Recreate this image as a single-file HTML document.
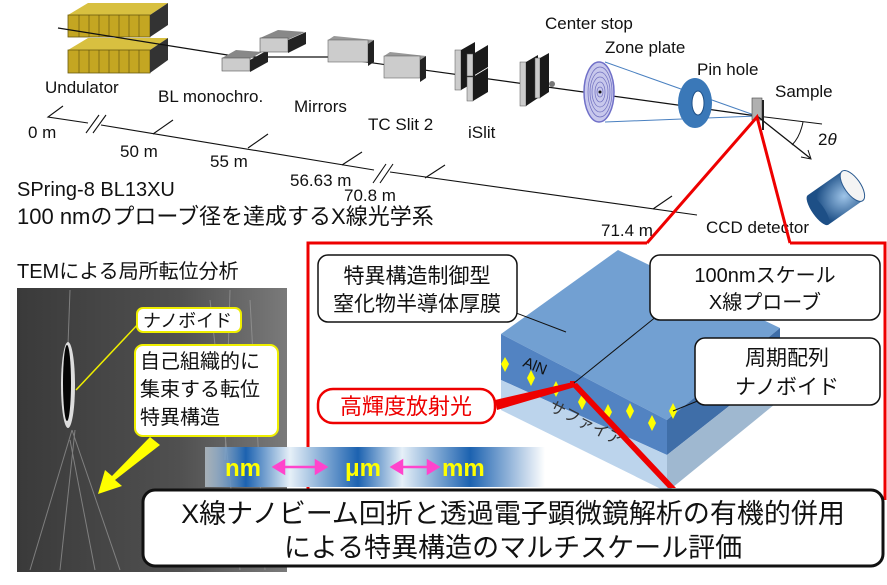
<!DOCTYPE html>
<html><head><meta charset="utf-8"><style>
html,body{margin:0;padding:0;background:#fff}
svg text{font-family:"Liberation Sans","Noto Sans CJK JP",sans-serif}
</style></head><body>
<svg width="887" height="580" viewBox="0 0 887 580" xmlns="http://www.w3.org/2000/svg">
<defs>
<linearGradient id="sb" x1="0" x2="1" y1="0" y2="0">
<stop offset="0" stop-color="#d8e8f4" stop-opacity="0.6"/>
<stop offset="0.12" stop-color="#1c62b0"/>
<stop offset="0.25" stop-color="#e6f0f8"/>
<stop offset="0.45" stop-color="#1c62b0"/>
<stop offset="0.58" stop-color="#e6f0f8"/>
<stop offset="0.78" stop-color="#1c62b0"/>
<stop offset="1" stop-color="#ffffff"/>
</linearGradient>
<linearGradient id="tem" x1="0" x2="1">
<stop offset="0" stop-color="#3a3a3a"/><stop offset="0.6" stop-color="#505050"/><stop offset="1" stop-color="#7a7a7a"/>
</linearGradient>
<radialGradient id="ccd" cx="0.7" cy="0.6" r="0.7"><stop offset="0" stop-color="#9ec4e8"/><stop offset="1" stop-color="#1d4f86"/></radialGradient>
</defs>

<!-- Undulator -->
<polygon points="68,15 88,3 168,3 150,15" fill="#d8c040"/>
<rect x="68" y="15" width="82" height="22" fill="#c4a622" stroke="#6a5a10" stroke-width="0.8"/>
<polygon points="150,15 168,3 168,25 150,37" fill="#333"/>
<polygon points="68,50 88,38 168,38 150,50" fill="#d8c040"/>
<rect x="68" y="50" width="82" height="23" fill="#c4a622" stroke="#6a5a10" stroke-width="0.8"/>
<polygon points="150,50 168,38 168,60 150,73" fill="#333"/>
<g stroke="#6a5a10" stroke-width="0.7">
<line x1="79" y1="15" x2="79" y2="37"/><line x1="89" y1="15" x2="89" y2="37"/><line x1="99" y1="15" x2="99" y2="37"/><line x1="109" y1="15" x2="109" y2="37"/><line x1="119" y1="15" x2="119" y2="37"/><line x1="129" y1="15" x2="129" y2="37"/><line x1="139" y1="15" x2="139" y2="37"/>
<line x1="79" y1="50" x2="79" y2="73"/><line x1="89" y1="50" x2="89" y2="73"/><line x1="99" y1="50" x2="99" y2="73"/><line x1="109" y1="50" x2="109" y2="73"/><line x1="119" y1="50" x2="119" y2="73"/><line x1="129" y1="50" x2="129" y2="73"/><line x1="139" y1="50" x2="139" y2="73"/>
</g>
<!-- beam -->
<polyline points="58,28 240,57" stroke="#111" stroke-width="1.2" fill="none"/>
<path d="M235,52 L242,57 L235,60" stroke="#111" fill="none"/>
<polyline points="242,57 330,57 757,116" stroke="#111" stroke-width="1.2" fill="none"/>
<!-- mono -->
<polygon points="222,58 236,50 262,52 248,60" fill="#888"/><rect x="222" y="58" width="28" height="13" fill="#ccc" stroke="#555" stroke-width=".6"/><polygon points="250,60 268,50 268,62 250,72" fill="#222"/>
<polygon points="260,38 278,30 305,32 287,40" fill="#888"/><rect x="260" y="38" width="28" height="14" fill="#ccc" stroke="#555" stroke-width=".6"/><polygon points="288,40 306,32 306,44 288,53" fill="#222"/>
<!-- mirrors -->
<polygon points="328,40 334,36 374,40 368,44" fill="#999"/><rect x="328" y="40" width="40" height="22" fill="#ccc" stroke="#666" stroke-width=".6"/><polygon points="368,44 374,40 374,62 368,66" fill="#222"/>
<polygon points="384,56 390,52 426,56 420,60" fill="#999"/><rect x="384" y="56" width="36" height="22" fill="#ccc" stroke="#666" stroke-width=".6"/><polygon points="420,60 426,56 426,78 420,82" fill="#222"/>
<!-- TC slit -->
<rect x="455" y="50" width="6" height="40" fill="#ccc" stroke="#555" stroke-width=".5"/><polygon points="461,50 475,42 475,82 461,90" fill="#1a1a1a"/>
<rect x="467" y="54" width="6" height="22" fill="#ccc" stroke="#555" stroke-width=".5"/><polygon points="473,54 488,45 488,67 473,76" fill="#1a1a1a"/>
<rect x="467" y="77" width="6" height="24" fill="#ccc" stroke="#555" stroke-width=".5"/><polygon points="473,77 488,68 488,92 473,101" fill="#1a1a1a"/>
<!-- iSlit -->
<rect x="520" y="62" width="6" height="44" fill="#ccc" stroke="#555" stroke-width=".5"/><polygon points="526,62 538,55 538,98 526,106" fill="#1a1a1a"/>
<rect x="535" y="58" width="5" height="40" fill="#ccc" stroke="#555" stroke-width=".5"/><polygon points="540,58 549,53 549,92 540,98" fill="#1a1a1a"/>
<circle cx="552" cy="84" r="3" fill="#777"/>
<!-- zone plate -->
<line x1="605" y1="62" x2="757" y2="116" stroke="#4a80c0"/><line x1="605" y1="122" x2="757" y2="116" stroke="#4a80c0"/>
<ellipse cx="599" cy="92" rx="15" ry="30" fill="#c8c8ec" stroke="#7070c8" stroke-width="1.5"/>
<g fill="none" stroke="#7070c0" stroke-width=".7"><ellipse cx="600" cy="92" rx="12" ry="25"/><ellipse cx="600" cy="92" rx="10" ry="20"/><ellipse cx="600" cy="92" rx="8" ry="15"/><ellipse cx="600" cy="92" rx="5" ry="10"/><ellipse cx="600" cy="92" rx="3" ry="5"/></g>
<circle cx="600" cy="92" r="1.5" fill="#111"/>
<!-- pinhole -->
<ellipse cx="695" cy="103" rx="17" ry="25" fill="#3a78b8"/><ellipse cx="698" cy="103" rx="6" ry="12" fill="#fff" stroke="#1d4f86"/>
<!-- sample -->
<line x1="757" y1="116" x2="822" y2="124" stroke="#111"/>
<rect x="752" y="98" width="10" height="22" fill="#b0b0b0" stroke="#444" stroke-width=".6"/><rect x="762" y="100" width="2" height="30" fill="#222"/>
<line x1="757" y1="116" x2="810" y2="158" stroke="#111" stroke-width="1.3"/><path d="M801,157 L811,159 L808,150" fill="none" stroke="#111"/>
<path d="M803,122 Q800,137 792,145" fill="none" stroke="#111"/>
<!-- CCD -->
<g transform="translate(842,192) rotate(-35)"><rect x="-30" y="-17" width="42" height="36" fill="url(#ccd)"/><ellipse cx="-30" cy="1" rx="6" ry="18" fill="#1d4f86"/><ellipse cx="12" cy="1" rx="8" ry="18" fill="#f4f4f4" stroke="#2a5a90"/></g>

<!-- labels -->
<g font-size="17" fill="#111">
<text x="45" y="93">Undulator</text>
<text x="158" y="102">BL monochro.</text>
<text x="294" y="112">Mirrors</text>
<text x="368" y="130">TC Slit 2</text>
<text x="468" y="138">iSlit</text>
<text x="545" y="29">Center stop</text>
<text x="605" y="53">Zone plate</text>
<text x="697" y="75">Pin hole</text>
<text x="775" y="97">Sample</text>
<text x="818" y="145">2<tspan font-style="italic">θ</tspan></text>
<text x="706" y="233">CCD detector</text>
<text x="28" y="138">0 m</text>
<text x="120" y="157">50 m</text>
<text x="210" y="167">55 m</text>
<text x="290" y="186">56.63 m</text>
<text x="344" y="201">70.8 m</text>
<text x="601" y="236">71.4 m</text>
</g>
<!-- distance line -->
<g stroke="#111" stroke-width="1.1" fill="none">
<polyline points="63,106 48,117 88,123"/><line x1="101" y1="125" x2="374" y2="170"/><line x1="390" y1="172" x2="697" y2="215"/>
<path d="M86,133 L99,115 M93,133 L106,115"/>
<line x1="153" y1="134" x2="173" y2="120"/><line x1="248" y1="148" x2="268" y2="134"/><line x1="342" y1="165" x2="362" y2="152"/>
<path d="M373,183 L386,164 M380,183 L393,164"/>
<line x1="425" y1="178" x2="445" y2="165"/><line x1="653" y1="209" x2="672" y2="196"/>
</g>
<text x="17" y="196" font-size="20" fill="#111">SPring-8 BL13XU</text>
<text x="17" y="224" font-size="22" fill="#111">100 nmのプローブ径を達成するX線光学系</text>
<text x="17" y="278" font-size="20" fill="#111">TEMによる局所転位分析</text>

<!-- red frame -->
<polyline points="647,243 308,243 308,500" fill="none" stroke="#e00" stroke-width="3"/>
<polyline points="790,243 885,243 885,500" fill="none" stroke="#e00" stroke-width="3"/>
<polyline points="647,243 757,117 790,243" fill="none" stroke="#e00" stroke-width="3"/>

<!-- TEM -->
<rect x="17" y="288" width="270" height="284" fill="url(#tem)"/>
<g stroke="#9a9a9a" stroke-width="1" fill="none" opacity="0.7">
<path d="M70,290 L68,345"/><path d="M72,430 L30,570"/><path d="M72,430 L120,570"/><path d="M75,430 L60,570"/><path d="M70,440 L95,570"/><path d="M210,300 L240,570"/><path d="M250,300 L265,570"/><path d="M230,290 L225,460"/>
</g>
<ellipse cx="68" cy="385" rx="7" ry="43" fill="#ddd"/><ellipse cx="67" cy="383" rx="4" ry="38" fill="#050505"/>
<line x1="76" y1="390" x2="140" y2="322" stroke="#ee0" stroke-width="1.5"/>
<rect x="137" y="308" width="104" height="24" rx="6" fill="#fff" stroke="#ee0" stroke-width="2"/>
<text x="143" y="327" font-size="18" fill="#111">ナノボイド</text>
<rect x="135" y="345" width="143" height="91" rx="8" fill="#fff" stroke="#ee0" stroke-width="2"/>
<text x="140" y="368" font-size="20" fill="#111">自己組織的に</text>
<text x="140" y="396" font-size="20" fill="#111">集束する転位</text>
<text x="140" y="424" font-size="20" fill="#111">特異構造</text>
<polygon points="150,437 160,445 115,480 122,486 98,494 105,470 112,476" fill="#ff0"/>

<!-- block -->
<polygon points="501,334 618,250 780,328 667,420" fill="#72a0d2"/>
<polygon points="501,334 667,420 667,455 501,380" fill="#5283c2"/>
<polygon points="501,380 667,455 667,492 501,410" fill="#bcd4ec"/>
<polygon points="667,420 780,328 780,366 667,455" fill="#3f6ea8"/>
<polygon points="667,455 780,366 780,400 667,492" fill="#9fb8d0"/>
<text x="522" y="366" font-size="15" fill="#111" transform="rotate(22 522 366)">AlN</text>
<text x="548" y="410" font-size="16" fill="#333" transform="rotate(27 548 410)">サファイア</text>
<g fill="#ff0">
<polygon points="505,357 509,364 505,372 501,364"/><polygon points="531,370 535,378 531,386 527,378"/><polygon points="556,381 560,389 556,397 552,389"/><polygon points="582,394 586,402 582,410 578,402"/><polygon points="608,404 612,412 608,420 604,412"/><polygon points="630,403 634,411 630,419 626,411"/><polygon points="652,415 656,423 652,431 648,423"/><polygon points="673,403 677,411 673,419 669,411"/>
</g>
<polygon points="495,400 573,382 575,387 497,410" fill="#e00"/>
<polygon points="571,385 577,383 676,488 668,488" fill="#e00"/>
<rect x="570" y="381" width="5" height="5" fill="#e00"/>
<line x1="574" y1="383" x2="657" y2="316" stroke="#111"/>
<line x1="673" y1="411" x2="700" y2="400" stroke="#111"/>
<line x1="490" y1="303" x2="566" y2="332" stroke="#111"/>
<rect x="318" y="255" width="199" height="67" rx="10" fill="#fff" stroke="#111" stroke-width="1.5"/>
<text x="417" y="283" font-size="21" fill="#111" text-anchor="middle">特異構造制御型</text>
<text x="417" y="311" font-size="21" fill="#111" text-anchor="middle">窒化物半導体厚膜</text>
<rect x="650" y="255" width="230" height="65" rx="10" fill="#fff" stroke="#111" stroke-width="1.5"/>
<text x="765" y="282" font-size="20" fill="#111" text-anchor="middle">100nmスケール</text>
<text x="765" y="309" font-size="20" fill="#111" text-anchor="middle">X線プローブ</text>
<rect x="695" y="338" width="185" height="67" rx="10" fill="#fff" stroke="#111" stroke-width="1.5"/>
<text x="787" y="365" font-size="21" fill="#111" text-anchor="middle">周期配列</text>
<text x="787" y="394" font-size="21" fill="#111" text-anchor="middle">ナノボイド</text>
<rect x="318" y="389" width="177" height="34" rx="15" fill="#fff" stroke="#e00" stroke-width="2.5"/>
<text x="406" y="414" font-size="22" fill="#e00" text-anchor="middle">高輝度放射光</text>

<!-- scale bar -->
<rect x="205" y="447" width="340" height="40" fill="url(#sb)"/>
<g font-size="24" font-weight="bold" fill="#ff0">
<text x="225" y="476">nm</text><text x="345" y="476">μm</text><text x="442" y="476">mm</text>
</g>
<g fill="#f4c" stroke="#f4c" stroke-width="2.5">
<line x1="280" y1="467" x2="320" y2="467"/><polygon points="274,467 284,461 284,473"/><polygon points="326,467 316,461 316,473"/>
<line x1="398" y1="467" x2="432" y2="467"/><polygon points="392,467 402,461 402,473"/><polygon points="438,467 428,461 428,473"/>
</g>

<!-- bottom box -->
<rect x="143" y="490" width="740" height="76" rx="12" fill="#fff" stroke="#111" stroke-width="3"/>
<text x="513" y="523" font-size="27" fill="#111" text-anchor="middle">X線ナノビーム回折と透過電子顕微鏡解析の有機的併用</text>
<text x="513" y="557" font-size="27" fill="#111" text-anchor="middle">による特異構造のマルチスケール評価</text>
</svg>
</body></html>
